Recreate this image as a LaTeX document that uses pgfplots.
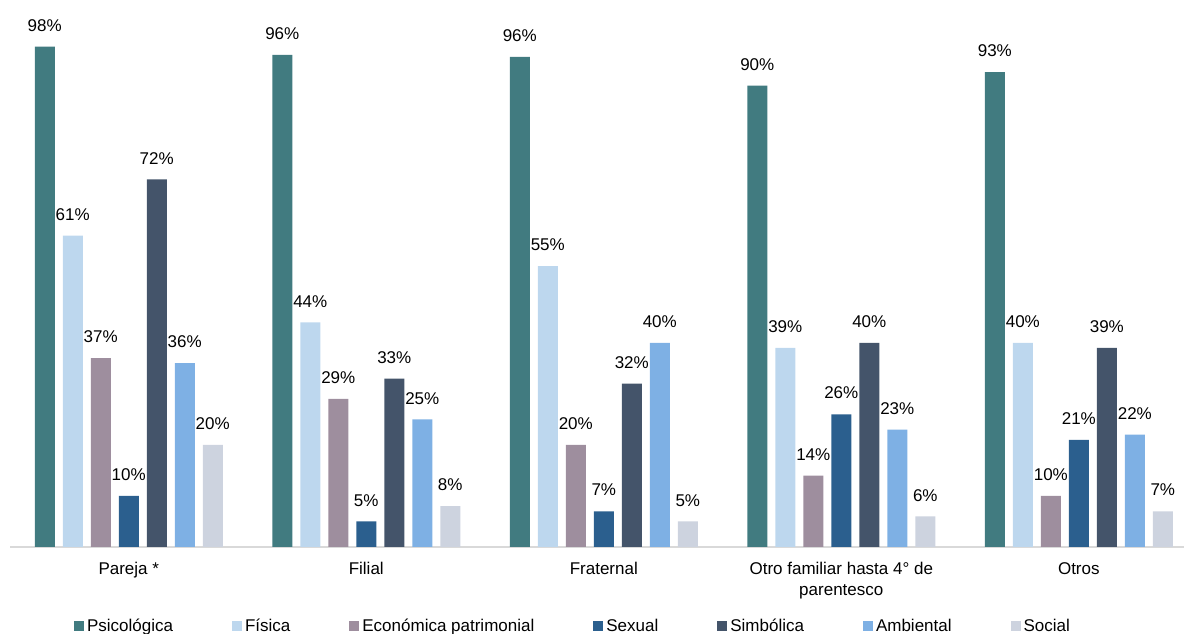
\documentclass[border=0pt]{standalone}
\usepackage{fontspec}
\setmainfont{Liberation Sans}
\usepackage{pgfplots}
\pgfplotsset{compat=1.18}

\definecolor{cPsi}{HTML}{417B80}
\definecolor{cFis}{HTML}{BDD7EE}
\definecolor{cEco}{HTML}{9E8E9E}
\definecolor{cSex}{HTML}{2B5F8E}
\definecolor{cSim}{HTML}{44546A}
\definecolor{cAmb}{HTML}{7EB0E4}
\definecolor{cSoc}{HTML}{CDD3DF}

\begin{document}
\begin{tikzpicture}[font=\fontsize{17bp}{21bp}\selectfont]
\begin{scope}
\clip (0,0) rectangle (1184bp,634bp);
\begin{axis}[
  at={(10bp,87bp)}, anchor=south west,
  scale only axis,
  width=1174bp, height=547bp,
  xmin=-0.5, xmax=4.443,
  ymin=0, ymax=107.15,
  ybar=8bp, bar width=20bp,
  axis x line=bottom, axis y line=none,
  x axis line style={-, draw=black!15, line width=1.3bp},
  xtick=data, ytick=\empty,
  major tick length=0pt,
  xticklabels={Pareja *, Filial, Fraternal, {Otro familiar hasta 4° de\\parentesco}, Otros},
  xticklabel style={align=center, inner sep=0pt, yshift=-15bp},
  /pgf/number format/assume math mode=true,
  nodes near coords={\pgfmathprintnumber[fixed, precision=0]{\pgfplotspointmeta}\%},
  every node near coord/.append style={anchor=south, inner sep=0pt, yshift=15bp, text=black},
  legend columns=7,
  legend style={at={(0.4787,-0.1444)}, anchor=center, draw=none, fill=none,
    /tikz/every even column/.append style={column sep=59bp},
    /tikz/every odd column/.append style={column sep=3bp},
    nodes={inner sep=0pt}},
  legend image code/.code={\fill[#1] (0bp,-5bp) rectangle (10bp,5bp);},
  every axis plot/.append style={draw=none},
]
\addplot[fill=cPsi] coordinates {(0,98) (1,96.4) (2,96) (3,90.4) (4,93)};
\addplot[fill=cFis] coordinates {(0,61) (1,44) (2,55) (3,39) (4,40)};
\addplot[fill=cEco] coordinates {(0,37) (1,29) (2,20) (3,14) (4,10)};
\addplot[fill=cSex] coordinates {(0,10) (1,5) (2,7) (3,26) (4,21)};
\addplot[fill=cSim] coordinates {(0,72) (1,33) (2,32) (3,40) (4,39)};
\addplot[fill=cAmb] coordinates {(0,36) (1,25) (2,40) (3,23) (4,22)};
\addplot[fill=cSoc] coordinates {(0,20) (1,8) (2,5) (3,6) (4,7)};
\legend{Psicológica, Física, Económica patrimonial, Sexual, Simbólica, Ambiental, Social}
\end{axis}
\end{scope}
\pgfresetboundingbox
\path[use as bounding box] (0,0) rectangle (1184bp,634bp);
\end{tikzpicture}
\end{document}
